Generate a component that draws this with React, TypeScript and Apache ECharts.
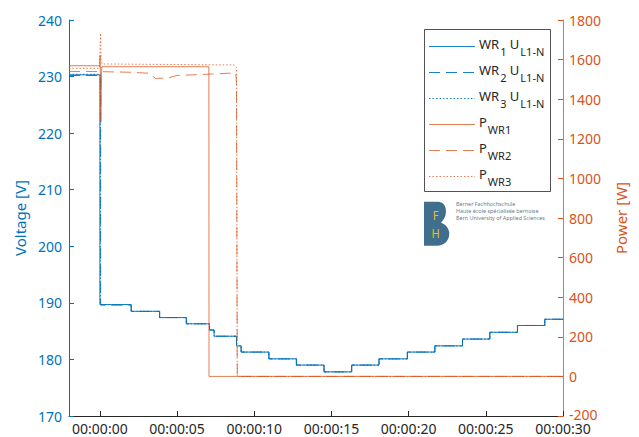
import React, { useEffect, useRef } from "react";
import * as echarts from "echarts";

// ---------- data ----------
const timeTicks = [0, 5, 10, 15, 20, 25, 30];

const u1Times = [-2, 0, 2.03, 3.87, 5.6, 7.1, 7.4, 8.85, 9.15, 10.95, 12.73, 14.52, 16.31, 18.08, 19.92, 21.7, 23.49, 25.26, 27.05, 28.82, 30];
const u1Values = [230.3, 189.7, 188.5, 187.4, 186.3, 185.2, 184.1, 182.4, 181.3, 180.1, 179.0, 177.8, 179.0, 180.1, 181.3, 182.4, 183.6, 184.8, 186.0, 187.1, 187.1];
const u2Times = [-2, 0.05, 2.03, 3.87, 5.6, 7.1, 7.4, 8.85, 9.15, 10.95, 12.73, 14.52, 16.31, 18.08, 19.92, 21.7, 23.49, 25.26, 27.05, 28.82, 30];
const u2Values = [230.2, 189.6, 188.5, 187.4, 186.3, 185.2, 184.1, 182.4, 181.3, 180.1, 179.0, 177.8, 179.0, 180.1, 181.3, 182.4, 183.6, 184.8, 186.0, 187.1, 187.1];
const u3Times = [-2, 0.03, 2.03, 3.87, 5.6, 7.1, 7.4, 8.85, 9.15, 10.95, 12.73, 14.52, 16.31, 18.08, 19.92, 21.7, 23.49, 25.26, 27.05, 28.82, 30];
const u3Values = [230.4, 189.7, 188.5, 187.4, 186.3, 185.2, 184.1, 182.4, 181.3, 180.1, 179.0, 177.8, 179.0, 180.1, 181.3, 182.4, 183.6, 184.8, 186.0, 187.1, 187.1];

const p1Times = [-2, -0.02, 0.02, 0.06, 0.12, 7.06, 7.07, 30];
const p1Values = [1569, 1569, 1620, 1286, 1564, 1564, 0, 0];
const p2Times = [-2, 0, 0.1, 2, 3.2, 3.6, 4.4, 5.0, 6.0, 7.2, 8.3, 8.8, 8.85, 8.9, 30];
const p2Values = [1540, 1540, 1539, 1536, 1531, 1505, 1507, 1520, 1523, 1527, 1531, 1531, 1480, 0, 0];
const p3Times = [-2, -0.02, 0.04, 0.08, 0.15, 8.7, 8.85, 8.9, 30];
const p3Values = [1556, 1556, 1733, 1600, 1578, 1573, 1560, 0, 0];

const legendLabels = [
  "{m|WR}{s|1}{m| U}{s|L1-N}",
  "{m|WR}{s|2}{m| U}{s|L1-N}",
  "{m|WR}{s|3}{m| U}{s|L1-N}",
  "{m|P}{s|WR1}",
  "{m|P}{s|WR2}",
  "{m|P}{s|WR3}",
];
const logoLines = ["Berner Fachhochschule", "Haute école spécialisée bernoise", "Bern University of Applied Sciences"];

// ---------- styles ----------
const BLUE = "#0072BD";
const ORANGE = "#D95319";
const DARK = "#262626";
const FONT = "'Noto Sans', 'Open Sans', sans-serif";
const DASH = [11, 6];
const DOT = [1.5, 2];

echarts.graphic.registerShape(
  "fhB",
  echarts.graphic.extendPath(
    "M0 0 L14 0 C19 0 22 4 22 9.5 C22 14 20 18 17 21 C22 22.5 25.3 27 25.3 32 C25.3 39 20 44 13 44 L0 44 Z",
    {}
  )
);

const pairs = (t: number[], v: number[]) => t.map((x, i) => [x, v[i]]);

export default function App() {
  const ref = useRef<HTMLDivElement>(null);

  useEffect(() => {
    if (!ref.current) return;
    const chart = echarts.init(ref.current, null, { renderer: "svg" });

    const seriesDefs = [
      { name: "WR1 U", data: pairs(u1Times, u1Values), color: BLUE, type: "solid", axis: 0, step: "end", op: 0.9 },
      { name: "WR2 U", data: pairs(u2Times, u2Values), color: BLUE, type: DASH, axis: 0, step: "end", op: 0.9 },
      { name: "WR3 U", data: pairs(u3Times, u3Values), color: BLUE, type: DOT, axis: 0, step: "end", op: 0.9 },
      { name: "P WR1", data: pairs(p1Times, p1Values), color: ORANGE, type: "solid", axis: 1, step: false, op: 0.75 },
      { name: "P WR2", data: pairs(p2Times, p2Values), color: ORANGE, type: DASH, axis: 1, step: false, op: 0.75 },
      { name: "P WR3", data: pairs(p3Times, p3Values), color: ORANGE, type: DOT, axis: 1, step: false, op: 0.75 },
    ];

    const rowY0 = 46.5;
    const rowStep = 26;
    const legendGraphics: any[] = [
      {
        type: "rect",
        shape: { x: 424.5, y: 29.5, width: 126, height: 162 },
        style: { fill: "#ffffff", stroke: DARK, lineWidth: 0.8 },
        z: 100,
      },
    ];
    seriesDefs.forEach((s, i) => {
      const y = rowY0 + i * rowStep;
      legendGraphics.push({
        type: "line",
        shape: { x1: 429, y1: y, x2: 475, y2: y },
        style: { stroke: s.color, lineWidth: 1, opacity: s.op, lineDash: s.type === "solid" ? null : s.type },
        z: 101,
      });
      legendGraphics.push({
        type: "text",
        x: 479,
        y: y - 9.5,
        z: 101,
        style: {
          text: legendLabels[i],
          verticalAlign: "top",
          fill: DARK,
          rich: {
            m: { fontSize: 13, fontFamily: FONT, fill: DARK, verticalAlign: "top" },
            s: { fontSize: 11, fontFamily: FONT, fill: DARK, verticalAlign: "top", padding: [9, 0, 0, 1] },
          },
        },
      });
    });

    const logo: any[] = [
      { type: "fhB", x: 424, y: 201.7, style: { fill: "#3f6f8c" }, z: 100 },
      { type: "text", x: 435.5, y: 215, scaleX: 0.85, style: { text: "F", fontSize: 13, fontFamily: FONT, fill: "#f2c200", align: "center", verticalAlign: "middle" }, z: 101 },
      { type: "text", x: 435.5, y: 233, scaleX: 0.85, style: { text: "H", fontSize: 13, fontFamily: FONT, fill: "#f2c200", align: "center", verticalAlign: "middle" }, z: 101 },
      ...logoLines.map((t, i) => ({
        type: "text",
        x: 456,
        y: 204.3 + i * 6.7,
        z: 101,
        style: { text: t, fontSize: 5.4, fontFamily: FONT, fill: "#5f7f90", verticalAlign: "middle" },
      })),
    ];

    chart.setOption({
      animation: false,
      backgroundColor: "#ffffff",
      grid: { left: 69, right: 76, top: 20, bottom: 21, containLabel: false, outerBoundsMode: "none" },
      xAxis: {
        type: "value",
        min: -2,
        max: 30,
        axisLine: { show: true, onZero: false, lineStyle: { color: DARK, width: 1 } },
        axisTick: { show: true, inside: true, length: 5, customValues: timeTicks, lineStyle: { color: DARK } },
        axisLabel: {
          customValues: timeTicks,
          formatter: (v: number) => `00:00:${String(v).padStart(2, "0")}`,
          color: DARK,
          fontSize: 14,
          lineHeight: 13,
          fontFamily: FONT,
          margin: 6,
        },
        splitLine: { show: false },
      },
      yAxis: [
        {
          type: "value",
          position: "left",
          min: 170,
          max: 240,
          interval: 10,
          axisLine: { show: true, onZero: false, lineStyle: { color: BLUE, width: 1 } },
          axisTick: { show: true, inside: true, length: 5, lineStyle: { color: BLUE } },
          axisLabel: { color: BLUE, fontSize: 14, fontFamily: FONT, margin: 7, formatter: (v: number) => String(v) },
          splitLine: { show: false },
          name: "Voltage [V]",
          nameLocation: "middle",
          nameGap: 39,
          nameTextStyle: { color: BLUE, fontSize: 15, fontFamily: FONT },
        },
        {
          type: "value",
          position: "right",
          min: -200,
          max: 1800,
          interval: 200,
          axisLine: { show: true, onZero: false, lineStyle: { color: ORANGE, width: 1, opacity: 0.8 } },
          axisTick: { show: true, inside: true, length: 5, lineStyle: { color: ORANGE } },
          axisLabel: {
            color: ORANGE,
            fontSize: 14,
            lineHeight: 12,
            fontFamily: FONT,
            margin: 6,
            formatter: (v: number) => (v === -200 ? `{lo|${v}}` : String(v)),
            rich: { lo: { color: ORANGE, fontSize: 14, lineHeight: 12, fontFamily: FONT, padding: [0, 0, 4, 0] } },
          },
          splitLine: { show: false },
          name: "Power [W]",
          nameLocation: "middle",
          nameGap: 50,
          nameTextStyle: { color: ORANGE, fontSize: 15, fontFamily: FONT },
        },
      ],
      series: seriesDefs.map((s) => ({
        type: "line",
        name: s.name,
        data: s.data,
        yAxisIndex: s.axis,
        step: s.step,
        symbol: "none",
        showSymbol: false,
        lineStyle: { color: s.color, width: 1, type: s.type, opacity: s.op },
        itemStyle: { color: s.color },
      })),
      graphic: [...legendGraphics, ...logo],
    });

    return () => chart.dispose();
  }, []);

  return <div ref={ref} style={{ position: "fixed", left: 0, top: 0, width: 639, height: 437 }} />;
}
